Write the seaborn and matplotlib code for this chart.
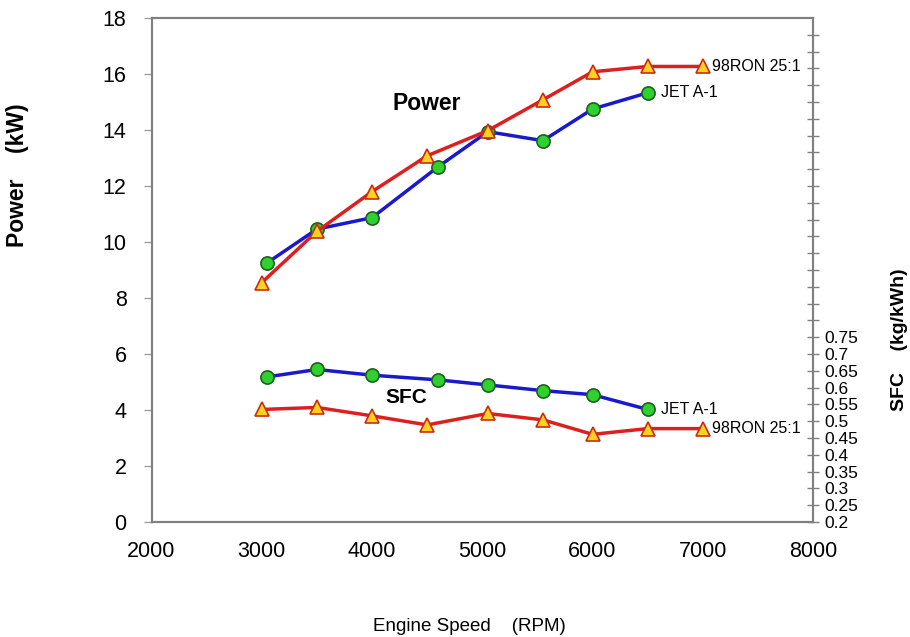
import seaborn as sns
import pandas as pd
import matplotlib.pyplot as plt
import numpy as np
from matplotlib.ticker import FormatStrFormatter

# engine speed (RPM)
jet_rpm = [3050, 3500, 4000, 4600, 5050, 5550, 6000, 6500]
ron_rpm = [3000, 3500, 4000, 4500, 5050, 5550, 6000, 6500, 7000]

# power (kW)
jet_power = [9.26, 10.46, 10.87, 12.69, 13.94, 13.62, 14.75, 15.33]
ron_power = [8.55, 10.38, 11.80, 13.08, 13.98, 15.08, 16.08, 16.27, 16.27]

# SFC (kg/kWh)
jet_sfc = [0.632, 0.654, 0.637, 0.623, 0.608, 0.591, 0.579, 0.535]
ron_sfc = [0.535, 0.541, 0.516, 0.489, 0.523, 0.504, 0.461, 0.478, 0.478]

sfc_ticks = [0.2, 0.25, 0.3, 0.35, 0.4, 0.45, 0.5, 0.55, 0.6, 0.65, 0.7, 0.75]

sns.set_style("white")
plt.rcParams['font.family'] = ['Liberation Sans', 'DejaVu Sans']
plt.rcParams['text.color'] = 'black'

fig = plt.figure(figsize=(9.1, 6.37), dpi=100)
ax = fig.add_axes([0.1665, 0.1805, 0.727, 0.7912])
ax2 = ax.twinx()

blue = "#1a1acc"
red = "#dd1f1f"
jet_kw = dict(color=blue, lw=2.5, marker="o", markersize=9.5,
              markerfacecolor="#2ed12e", markeredgecolor="#1f5f1f", markeredgewidth=1.2)
ron_kw = dict(color=red, lw=2.5, marker="^", markersize=9.5,
              markerfacecolor="#ffd21f", markeredgecolor="#cc2a10", markeredgewidth=1.2)

sns.lineplot(x=jet_rpm, y=jet_power, ax=ax, **jet_kw)
sns.lineplot(x=ron_rpm, y=ron_power, ax=ax, **ron_kw)
sns.lineplot(x=jet_rpm, y=jet_sfc, ax=ax2, **jet_kw)
sns.lineplot(x=ron_rpm, y=ron_sfc, ax=ax2, **ron_kw)

ax.set_xlim(2000, 8000)
ax.set_ylim(0, 18)
ax.set_xticks(range(2000, 8001, 1000))
ax.set_yticks(range(0, 19, 2))
ax2.set_ylim(0.2, 1.7)
ax2.set_yticks(sfc_ticks)
ax2.yaxis.set_major_formatter(FormatStrFormatter("%g"))
ax2.set_yticks(np.arange(0.8, 1.70, 0.05), minor=True)

for a in (ax, ax2):
    for s in a.spines.values():
        s.set_color("#808080")
        s.set_linewidth(1.5)
ax.tick_params(axis="x", labelsize=15.5, direction="in", length=7, color="#a0a0a0",
               width=1, pad=14, labelcolor="black")
ax.tick_params(axis="y", labelsize=15.5, direction="out", length=6, color="#a0a0a0",
               width=1, pad=12, labelcolor="black")
ax2.tick_params(axis="y", which="both", labelsize=12.5, direction="inout", length=8,
                color="#808080", width=1, pad=4, labelcolor="black")

ax.set_xlabel("Engine Speed    (RPM)", fontsize=13.5, color="black")
ax.xaxis.set_label_coords(0.481, -0.19)
ax.set_ylabel("Power    (kW)", fontsize=16.5, fontweight="bold", color="black")
ax.yaxis.set_label_coords(-0.185, 0.688)
ax2.set_ylabel("SFC    (kg/kWh)", fontsize=14, fontweight="bold", color="black")
ax2.yaxis.set_label_coords(1.118, 0.361)

ax.text(4500, 14.96, "Power", fontsize=16.5, fontweight="bold", ha="center", va="center")
ax.text(4310, 4.45, "SFC", fontsize=15, fontweight="bold", ha="center", va="center")
ax.text(6620, 15.35, "JET A-1", fontsize=11.5, va="center")
ax.text(7080, 16.27, "98RON 25:1", fontsize=11.5, va="center")
ax2.text(6620, 0.535, "JET A-1", fontsize=11.5, va="center")
ax2.text(7080, 0.478, "98RON 25:1", fontsize=11.5, va="center")

fig.savefig("out.png", dpi=100)
